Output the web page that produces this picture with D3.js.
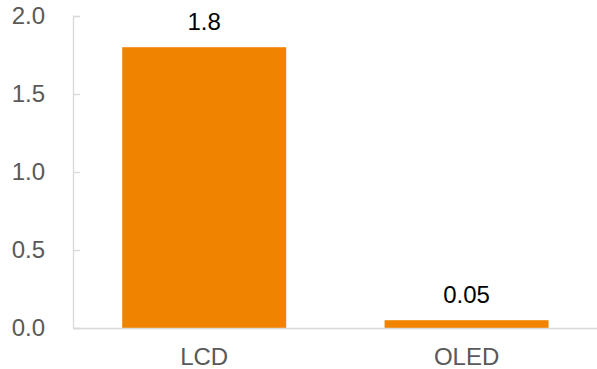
<!DOCTYPE html>
<html>
<head>
<meta charset="utf-8">
<script src="https://cdn.jsdelivr.net/npm/d3@7"></script>
<style>
  body { margin: 0; background: #fff; }
  text { font-family: "Liberation Sans", Arial, sans-serif; }
</style>
</head>
<body>
<svg id="chart" width="597" height="369"></svg>
<script>
// data
const categories = ["LCD", "OLED"]
const values = [1.8, 0.05]
const yTicks = [0, 0.5, 1.0, 1.5, 2.0]

const width = 597, height = 369
const margin = {top: 16, right: 0, bottom: 41, left: 73}

const svg = d3.select("#chart")

const x = d3.scaleBand()
  .domain(categories)
  .range([margin.left, 597.75])
  .paddingInner(0.375)
  .paddingOuter(0.1875)

const y = d3.scaleLinear()
  .domain([0, 2])
  .range([height - margin.bottom, margin.top])

// y axis
const yAxis = svg.append("g")
  .attr("transform", `translate(${margin.left},0)`)
  .call(d3.axisRight(y).tickValues(yTicks).tickFormat(d3.format(".1f")).tickSize(7))
yAxis.select(".domain").attr("stroke", "#d9d9d9").attr("stroke-width", 1.3)
yAxis.selectAll(".tick line").attr("stroke", "#d9d9d9").attr("stroke-width", 1.3)
yAxis.selectAll(".tick text")
  .attr("x", -28).attr("text-anchor", "end")
  .attr("fill", "#595959").attr("font-size", 24)
  .style("font-family", '"Liberation Sans", Arial, sans-serif')

// bars
svg.append("g").selectAll("rect").data(values).enter()
  .append("rect")
  .attr("x", (d, i) => x(categories[i]))
  .attr("width", x.bandwidth())
  .attr("y", d => y(d))
  .attr("height", d => y(0) - y(d))
  .attr("fill", "#f08400")

// x axis
const xAxis = svg.append("g")
  .attr("transform", `translate(0,${y(0)})`)
  .call(d3.axisBottom(x).tickSize(0).tickPadding(20))
xAxis.select(".domain").attr("stroke", "#d9d9d9").attr("stroke-width", 1.5)
xAxis.selectAll(".tick text")
  .attr("fill", "#595959").attr("font-size", 24)
  .style("font-family", '"Liberation Sans", Arial, sans-serif')

// value labels
svg.append("g").selectAll("text").data(values).enter()
  .append("text")
  .attr("x", (d, i) => x(categories[i]) + x.bandwidth() / 2)
  .attr("y", d => y(d) - 17)
  .attr("text-anchor", "middle")
  .attr("font-size", 24)
  .attr("fill", "#000")
  .text(d => d)
</script>
</body>
</html>
